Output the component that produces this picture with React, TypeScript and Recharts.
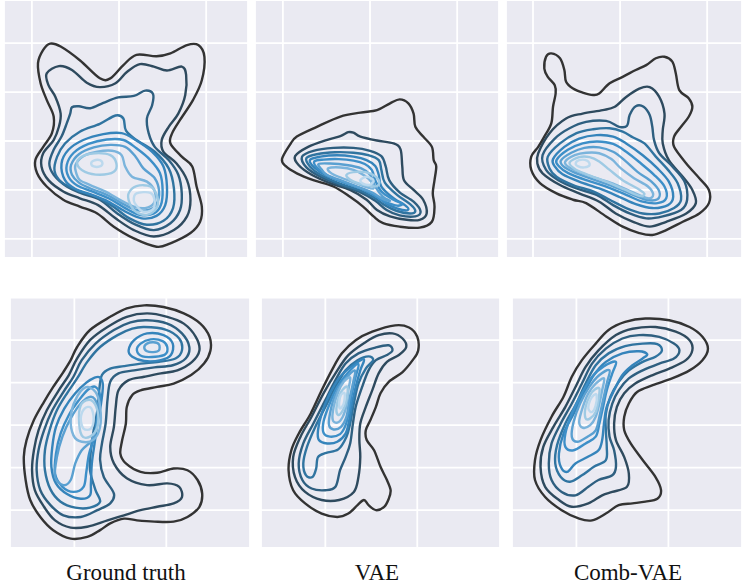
import { LineChart, Line, XAxis, YAxis, CartesianGrid } from "recharts";

type Pt = [number, number];

// column titles under the bottom row
const panelLabels = ["Ground truth", "VAE", "Comb-VAE"];

// grid tick values (grid cells)
const topXTicks = [0, 1, 2];
const topYTicks = [0, 1, 2, 3, 4];
const bottomXTicks = [0, 1];
const bottomYTicks = [0, 1, 2, 3, 4, 5];

// contour colours, outermost level first
const levelColors = [
    "#333333",
    "#2e4a5e",
    "#2e5f80",
    "#3074a0",
    "#3584bb",
    "#3d8fc8",
    "#5aa0d1",
    "#7bb4dc",
    "#9ecae4",
    "#bcd9ee",
];

// ---------- top row: ground truth ----------
const gtA0: Pt[] = [[0.21,3.99],[0.33,3.93],[0.55,3.65],[0.78,3.28],[0.90,3.28],[1.05,3.55],[1.20,3.76],[1.43,3.73],[1.59,3.79],[1.78,3.96],[1.91,3.96],[1.98,3.72],[1.95,3.24],[1.85,2.84],[1.70,2.43],[1.61,2.16],[1.59,1.95],[1.72,1.68],[1.84,1.48],[1.89,1.07],[1.95,0.66],[1.93,0.35],[1.82,0.12],[1.59,-0.09],[1.43,-0.16],[1.17,0.01],[0.94,0.25],[0.75,0.52],[0.55,0.66],[0.36,0.80],[0.17,1.07],[0.06,1.34],[0.04,1.61],[0.13,1.88],[0.23,2.16],[0.25,2.50],[0.17,2.84],[0.10,3.18],[0.07,3.59],[0.13,3.86]];
const gtA1: Pt[] = [[0.17,3.38],[0.31,3.53],[0.46,3.45],[0.63,3.19],[0.78,3.10],[0.96,3.18],[1.09,3.41],[1.24,3.57],[1.40,3.52],[1.55,3.44],[1.72,3.52],[1.77,3.35],[1.76,2.94],[1.68,2.56],[1.57,2.29],[1.49,2.02],[1.51,1.78],[1.66,1.54],[1.78,1.20],[1.82,0.80],[1.78,0.46],[1.63,0.18],[1.40,0.05],[1.17,0.18],[0.96,0.42],[0.76,0.69],[0.55,0.83],[0.36,0.97],[0.19,1.20],[0.11,1.48],[0.13,1.75],[0.25,2.02],[0.31,2.29],[0.33,2.56],[0.27,2.90],[0.19,3.14]];
const gtA2: Pt[] = [[0.46,2.69],[0.54,2.71],[0.67,2.67],[0.82,2.78],[0.99,2.89],[1.17,2.92],[1.30,3.03],[1.39,2.96],[1.38,2.73],[1.32,2.46],[1.34,2.16],[1.41,1.88],[1.57,1.61],[1.68,1.31],[1.72,0.93],[1.70,0.59],[1.59,0.32],[1.40,0.18],[1.19,0.29],[0.98,0.52],[0.78,0.80],[0.57,0.93],[0.40,1.07],[0.25,1.31],[0.20,1.54],[0.25,1.82],[0.34,2.09],[0.40,2.36],[0.44,2.56]];
const gtA3: Pt[] = [[0.29,1.68],[0.38,1.95],[0.55,2.19],[0.78,2.35],[0.96,2.52],[1.05,2.46],[1.08,2.21],[1.20,2.02],[1.41,1.78],[1.57,1.44],[1.63,1.03],[1.62,0.63],[1.51,0.37],[1.32,0.29],[1.12,0.42],[0.94,0.65],[0.75,0.85],[0.52,0.99],[0.34,1.16],[0.26,1.39]];
const gtA4: Pt[] = [[0.34,1.54],[0.42,1.82],[0.59,2.02],[0.82,2.14],[1.03,2.16],[1.19,2.02],[1.38,1.78],[1.51,1.48],[1.55,1.07],[1.53,0.69],[1.43,0.47],[1.26,0.42],[1.07,0.56],[0.88,0.76],[0.69,0.90],[0.50,1.02],[0.38,1.20]];
const gtA5: Pt[] = [[0.40,1.51],[0.48,1.76],[0.65,1.94],[0.86,2.03],[1.05,2.02],[1.20,1.85],[1.36,1.61],[1.47,1.34],[1.50,1.00],[1.48,0.69],[1.40,0.52],[1.24,0.49],[1.07,0.63],[0.88,0.83],[0.69,0.97],[0.52,1.09],[0.42,1.27]];
const gtA6: Pt[] = [[0.45,1.51],[0.54,1.73],[0.71,1.87],[0.90,1.92],[1.07,1.88],[1.19,1.68],[1.28,1.44],[1.41,1.24],[1.46,0.97],[1.43,0.71],[1.34,0.59],[1.20,0.59],[1.05,0.71],[0.86,0.90],[0.67,1.03],[0.54,1.15],[0.46,1.31]];
const gtA7: Pt[] = [[0.50,1.51],[0.59,1.69],[0.75,1.78],[0.92,1.80],[1.03,1.71],[1.07,1.48],[1.15,1.27],[1.32,1.17],[1.41,0.97],[1.40,0.73],[1.30,0.63],[1.17,0.66],[1.01,0.80],[0.84,0.97],[0.67,1.10],[0.55,1.20],[0.51,1.34]];
const gtA8a: Pt[] = [[0.52,1.53],[0.57,1.68],[0.73,1.75],[0.90,1.71],[0.97,1.54],[0.94,1.37],[0.78,1.31],[0.61,1.37]];
const gtA8b: Pt[] = [[1.11,0.93],[1.20,1.08],[1.36,1.07],[1.44,0.86],[1.43,0.63],[1.32,0.49],[1.19,0.56],[1.12,0.74]];
const gtA9a: Pt[] = [[0.68,1.54],[0.71,1.60],[0.78,1.61],[0.81,1.54],[0.78,1.48],[0.71,1.48]];
const gtA9b: Pt[] = [[1.17,0.78],[1.20,0.93],[1.36,0.94],[1.41,0.76],[1.38,0.59],[1.27,0.56],[1.21,0.66]];

// ---------- top row: VAE ----------
const vaeA0: Pt[] = [[-0.01,1.63],[0.08,1.92],[0.16,2.09],[0.39,2.29],[0.66,2.50],[0.89,2.58],[1.08,2.63],[1.23,2.77],[1.34,2.85],[1.44,2.77],[1.50,2.56],[1.52,2.29],[1.61,2.09],[1.71,1.88],[1.73,1.61],[1.76,1.48],[1.74,1.20],[1.72,0.93],[1.74,0.66],[1.71,0.35],[1.57,0.23],[1.34,0.25],[1.15,0.32],[1.04,0.46],[0.92,0.66],[0.77,0.86],[0.58,1.07],[0.35,1.20],[0.16,1.34],[0.03,1.49]];
const vaeA1: Pt[] = [[0.14,1.69],[0.29,1.88],[0.50,2.02],[0.66,2.10],[0.75,2.18],[0.81,2.17],[0.89,2.09],[1.08,2.01],[1.27,1.95],[1.35,1.83],[1.37,1.48],[1.39,1.20],[1.50,1.00],[1.61,0.80],[1.65,0.52],[1.57,0.39],[1.42,0.39],[1.23,0.46],[1.08,0.59],[0.96,0.80],[0.77,1.00],[0.54,1.14],[0.33,1.31],[0.18,1.51]];
const vaeA2: Pt[] = [[0.22,1.68],[0.35,1.80],[0.58,1.86],[0.81,1.86],[1.00,1.80],[1.13,1.69],[1.18,1.48],[1.22,1.20],[1.34,0.95],[1.50,0.76],[1.58,0.56],[1.52,0.46],[1.34,0.48],[1.19,0.59],[1.06,0.78],[0.89,0.95],[0.66,1.10],[0.43,1.27],[0.27,1.46]];
const vaeA3: Pt[] = [[0.27,1.65],[0.39,1.73],[0.60,1.77],[0.81,1.76],[0.98,1.71],[1.10,1.61],[1.13,1.41],[1.17,1.15],[1.31,0.90],[1.46,0.71],[1.52,0.57],[1.46,0.52],[1.31,0.57],[1.17,0.69],[1.04,0.85],[0.87,1.00],[0.64,1.14],[0.43,1.31],[0.31,1.48]];
const vaeA4: Pt[] = [[0.31,1.61],[0.43,1.68],[0.62,1.71],[0.81,1.68],[0.96,1.61],[1.06,1.49],[1.10,1.31],[1.13,1.07],[1.27,0.83],[1.40,0.69],[1.44,0.60],[1.37,0.59],[1.23,0.68],[1.10,0.83],[0.94,1.00],[0.73,1.14],[0.50,1.29],[0.36,1.46]];
const vaeA5: Pt[] = [[0.36,1.58],[0.47,1.62],[0.64,1.63],[0.81,1.60],[0.94,1.53],[1.02,1.41],[1.06,1.20],[1.13,0.97],[1.27,0.80],[1.37,0.72],[1.31,0.68],[1.17,0.76],[1.04,0.90],[0.89,1.03],[0.70,1.15],[0.52,1.29],[0.40,1.44]];
const vaeA6: Pt[] = [[0.41,1.53],[0.54,1.54],[0.73,1.51],[0.90,1.44],[1.00,1.31],[1.06,1.07],[1.15,0.86],[1.23,0.78],[1.15,0.81],[1.02,0.95],[0.85,1.07],[0.66,1.20],[0.50,1.31],[0.44,1.43]];
const vaeA7: Pt[] = [[0.52,1.44],[0.66,1.46],[0.81,1.41],[0.94,1.29],[1.02,1.15],[1.04,1.03],[0.94,1.07],[0.79,1.17],[0.64,1.27],[0.55,1.35]];
const vaeA8: Pt[] = [[0.73,1.31],[0.85,1.37],[1.00,1.34],[1.10,1.20],[1.08,1.08],[0.94,1.10],[0.79,1.19]];
const vaeA9: Pt[] = [[0.89,1.20],[0.96,1.27],[1.04,1.20],[1.00,1.11],[0.92,1.13]];

// ---------- top row: Comb-VAE ----------
const combA0: Pt[] = [[0.13,3.48],[0.15,3.72],[0.21,3.79],[0.31,3.69],[0.36,3.45],[0.38,3.21],[0.46,3.07],[0.57,2.99],[0.69,2.94],[0.76,2.97],[0.88,3.18],[1.03,3.31],[1.18,3.45],[1.30,3.55],[1.41,3.69],[1.51,3.72],[1.60,3.62],[1.64,3.38],[1.68,3.04],[1.79,2.87],[1.83,2.70],[1.79,2.50],[1.70,2.29],[1.62,2.09],[1.62,1.88],[1.76,1.54],[1.91,1.24],[2.02,1.00],[2.02,0.73],[1.91,0.52],[1.72,0.35],[1.53,0.18],[1.37,0.08],[1.22,0.12],[1.03,0.25],[0.84,0.46],[0.61,0.73],[0.46,0.80],[0.27,0.93],[0.08,1.14],[-0.02,1.41],[-0.02,1.68],[0.06,1.88],[0.13,2.09],[0.21,2.36],[0.23,2.70],[0.26,2.97],[0.25,3.14],[0.17,3.31]];
const combA1: Pt[] = [[0.06,1.75],[0.19,2.16],[0.38,2.46],[0.57,2.56],[0.80,2.63],[0.94,2.70],[1.07,2.90],[1.22,3.07],[1.34,3.10],[1.45,2.90],[1.51,2.56],[1.49,2.22],[1.49,1.95],[1.56,1.61],[1.72,1.27],[1.83,1.00],[1.87,0.73],[1.76,0.52],[1.53,0.35],[1.34,0.25],[1.15,0.35],[0.95,0.52],[0.76,0.76],[0.53,0.93],[0.31,1.10],[0.11,1.34],[0.05,1.54]];
const combA2: Pt[] = [[0.11,1.71],[0.25,2.05],[0.42,2.26],[0.61,2.39],[0.84,2.41],[0.99,2.29],[1.08,2.31],[1.11,2.53],[1.18,2.71],[1.27,2.70],[1.34,2.53],[1.37,2.29],[1.39,2.02],[1.45,1.75],[1.60,1.48],[1.74,1.17],[1.77,0.80],[1.70,0.59],[1.49,0.46],[1.30,0.42],[1.11,0.52],[0.92,0.69],[0.73,0.90],[0.50,1.03],[0.29,1.20],[0.15,1.41]];
const combA3: Pt[] = [[0.17,1.68],[0.31,1.95],[0.50,2.16],[0.69,2.24],[0.88,2.26],[1.03,2.19],[1.15,2.07],[1.28,1.95],[1.41,1.68],[1.55,1.41],[1.66,1.14],[1.70,0.80],[1.62,0.63],[1.45,0.52],[1.26,0.52],[1.07,0.63],[0.88,0.80],[0.69,0.97],[0.46,1.10],[0.27,1.27],[0.19,1.44]];
const combA4: Pt[] = [[0.23,1.63],[0.36,1.88],[0.53,2.05],[0.73,2.12],[0.92,2.09],[1.07,1.95],[1.26,1.71],[1.43,1.44],[1.56,1.17],[1.61,0.86],[1.55,0.69],[1.37,0.63],[1.18,0.71],[0.99,0.86],[0.76,1.03],[0.53,1.17],[0.34,1.32],[0.25,1.48]];
const combA5: Pt[] = [[0.27,1.61],[0.40,1.82],[0.57,1.95],[0.74,1.99],[0.92,1.94],[1.07,1.78],[1.24,1.54],[1.39,1.31],[1.51,1.07],[1.53,0.83],[1.43,0.73],[1.26,0.76],[1.07,0.90],[0.84,1.07],[0.61,1.20],[0.40,1.35],[0.30,1.48]];
const combA6: Pt[] = [[0.32,1.60],[0.44,1.76],[0.59,1.86],[0.76,1.87],[0.92,1.78],[1.05,1.61],[1.20,1.37],[1.36,1.17],[1.45,0.97],[1.43,0.81],[1.30,0.80],[1.11,0.93],[0.88,1.10],[0.65,1.24],[0.46,1.37],[0.35,1.48]];
const combA7: Pt[] = [[0.37,1.58],[0.48,1.71],[0.61,1.76],[0.76,1.75],[0.90,1.63],[1.01,1.44],[1.16,1.24],[1.32,1.07],[1.38,0.90],[1.32,0.83],[1.15,0.95],[0.92,1.13],[0.69,1.26],[0.50,1.39],[0.40,1.48]];
const combA8: Pt[] = [[0.42,1.56],[0.53,1.67],[0.65,1.67],[0.76,1.58],[0.88,1.41],[1.03,1.20],[1.20,1.03],[1.28,0.92],[1.22,0.88],[1.05,1.01],[0.84,1.17],[0.63,1.31],[0.48,1.43]];
const combA9: Pt[] = [[0.49,1.54],[0.53,1.61],[0.62,1.60],[0.65,1.51],[0.59,1.46],[0.52,1.48]];

// ---------- bottom row: ground truth ----------
const gtB0: Pt[] = [[0.76,4.82],[0.97,4.78],[1.19,4.63],[1.37,4.39],[1.47,4.08],[1.48,3.76],[1.41,3.45],[1.27,3.18],[1.08,2.98],[0.90,2.90],[0.72,2.82],[0.63,2.71],[0.57,2.43],[0.56,2.04],[0.52,1.65],[0.50,1.33],[0.56,1.10],[0.72,0.90],[0.90,0.88],[1.08,0.98],[1.23,0.94],[1.34,0.71],[1.39,0.39],[1.36,0.08],[1.23,-0.16],[1.08,-0.27],[0.87,-0.27],[0.68,-0.24],[0.54,-0.20],[0.39,-0.31],[0.28,-0.47],[0.14,-0.63],[-0.04,-0.67],[-0.23,-0.47],[-0.37,-0.16],[-0.48,0.24],[-0.53,0.71],[-0.55,1.25],[-0.52,1.65],[-0.44,2.12],[-0.33,2.55],[-0.23,2.90],[-0.12,3.25],[-0.04,3.53],[0.03,3.84],[0.17,4.24],[0.39,4.55],[0.57,4.75]];
const gtB1: Pt[] = [[0.79,4.63],[1.01,4.55],[1.19,4.39],[1.32,4.08],[1.36,3.76],[1.28,3.49],[1.12,3.29],[0.94,3.22],[0.76,3.14],[0.59,3.06],[0.48,2.82],[0.45,2.43],[0.43,1.96],[0.39,1.49],[0.43,1.10],[0.57,0.75],[0.79,0.59],[1.01,0.63],[1.14,0.55],[1.17,0.31],[1.08,0.16],[0.90,0.08],[0.72,0.00],[0.54,-0.12],[0.36,-0.24],[0.14,-0.39],[-0.04,-0.41],[-0.21,-0.24],[-0.33,0.08],[-0.43,0.47],[-0.46,0.94],[-0.44,1.41],[-0.39,1.88],[-0.30,2.35],[-0.17,2.82],[-0.06,3.18],[0.03,3.57],[0.17,4.00],[0.36,4.31],[0.57,4.55]];
const gtB2: Pt[] = [[0.79,4.47],[1.01,4.39],[1.17,4.16],[1.25,3.84],[1.21,3.57],[1.07,3.41],[0.87,3.36],[0.65,3.29],[0.48,3.22],[0.39,3.02],[0.36,2.59],[0.34,2.04],[0.30,1.57],[0.28,1.18],[0.32,0.78],[0.43,0.39],[0.39,0.16],[0.25,0.00],[0.07,-0.16],[-0.12,-0.12],[-0.26,0.12],[-0.37,0.47],[-0.41,0.94],[-0.39,1.41],[-0.33,1.88],[-0.24,2.35],[-0.12,2.78],[-0.01,3.14],[0.08,3.53],[0.23,3.92],[0.43,4.24],[0.61,4.42]];
const gtB3: Pt[] = [[0.76,4.31],[0.99,4.25],[1.14,4.04],[1.17,3.76],[1.10,3.57],[0.92,3.49],[0.72,3.45],[0.54,3.39],[0.39,3.33],[0.30,3.18],[0.27,2.82],[0.25,2.35],[0.21,1.88],[0.18,1.41],[0.17,0.94],[0.23,0.47],[0.28,0.20],[0.17,0.06],[0.01,0.06],[-0.15,0.20],[-0.26,0.49],[-0.32,0.94],[-0.32,1.41],[-0.27,1.88],[-0.19,2.35],[-0.08,2.75],[0.03,3.10],[0.14,3.49],[0.28,3.84],[0.47,4.12],[0.63,4.27]];
const gtB4a: Pt[] = [[0.59,3.76],[0.65,4.00],[0.79,4.16],[0.97,4.12],[1.07,3.92],[1.05,3.65],[0.94,3.53],[0.76,3.51],[0.63,3.61]];
const gtB4b: Pt[] = [[0.28,3.12],[0.31,2.94],[0.29,2.51],[0.25,2.04],[0.22,1.57],[0.19,1.10],[0.18,0.63],[0.17,0.35],[0.07,0.27],[-0.08,0.38],[-0.20,0.63],[-0.25,1.02],[-0.24,1.49],[-0.20,1.96],[-0.11,2.39],[0.01,2.75],[0.13,3.00],[0.22,3.12]];
const gtB5a: Pt[] = [[0.68,3.76],[0.72,3.92],[0.83,4.02],[0.96,3.98],[1.01,3.84],[0.99,3.67],[0.88,3.61],[0.74,3.62]];
const gtB5b: Pt[] = [[0.23,2.90],[0.28,2.67],[0.25,2.20],[0.22,1.73],[0.16,1.33],[0.13,0.90],[0.10,0.55],[-0.01,0.43],[-0.13,0.55],[-0.21,0.86],[-0.20,1.33],[-0.15,1.80],[-0.06,2.24],[0.05,2.59],[0.15,2.84]];
const gtB6a: Pt[] = [[0.76,3.83],[0.79,3.92],[0.86,3.95],[0.92,3.90],[0.92,3.76],[0.86,3.72],[0.79,3.74]];
const gtB6b: Pt[] = [[0.18,2.67],[0.25,2.47],[0.25,2.04],[0.19,1.65],[0.08,1.41],[0.01,1.10],[-0.04,0.71],[-0.12,0.59],[-0.21,0.78],[-0.19,1.25],[-0.13,1.73],[-0.04,2.16],[0.07,2.51]];
const gtB7: Pt[] = [[0.12,2.89],[0.23,2.78],[0.28,2.43],[0.28,1.96],[0.21,1.66],[0.08,1.61],[-0.01,1.76],[-0.04,2.16],[0.01,2.59]];
const gtB8: Pt[] = [[0.05,2.20],[0.08,2.51],[0.18,2.59],[0.25,2.35],[0.25,1.96],[0.17,1.73],[0.08,1.76]];
const gtB9: Pt[] = [[0.07,2.16],[0.11,2.39],[0.18,2.41],[0.21,2.16],[0.18,1.92],[0.10,1.92]];

// ---------- bottom row: VAE ----------
const vaeB0: Pt[] = [[0.76,4.35],[0.91,4.30],[1.00,4.08],[1.01,3.76],[0.95,3.53],[0.84,3.25],[0.69,3.02],[0.60,2.75],[0.55,2.43],[0.49,2.12],[0.44,1.88],[0.45,1.65],[0.53,1.41],[0.60,1.02],[0.67,0.71],[0.71,0.47],[0.69,0.27],[0.64,0.08],[0.55,0.00],[0.47,0.12],[0.42,0.24],[0.35,0.12],[0.25,-0.08],[0.13,-0.16],[-0.04,-0.08],[-0.22,0.16],[-0.35,0.47],[-0.40,0.94],[-0.37,1.41],[-0.29,1.80],[-0.16,2.27],[-0.04,2.82],[0.07,3.29],[0.18,3.69],[0.33,4.00],[0.51,4.20]];
const vaeB1: Pt[] = [[0.73,4.16],[0.84,4.04],[0.88,3.84],[0.80,3.65],[0.67,3.49],[0.58,3.22],[0.51,2.82],[0.44,2.43],[0.38,2.04],[0.37,1.65],[0.38,1.25],[0.36,0.78],[0.31,0.43],[0.15,0.24],[-0.04,0.24],[-0.22,0.43],[-0.33,0.78],[-0.35,1.25],[-0.27,1.73],[-0.15,2.20],[-0.02,2.75],[0.11,3.22],[0.25,3.65],[0.44,3.96],[0.58,4.12]];
const vaeB2: Pt[] = [[0.69,3.88],[0.73,3.76],[0.67,3.65],[0.55,3.53],[0.47,3.29],[0.40,2.90],[0.33,2.43],[0.30,2.04],[0.27,1.57],[0.22,1.25],[0.16,0.94],[0.11,0.55],[0.00,0.47],[-0.15,0.51],[-0.25,0.71],[-0.29,1.10],[-0.24,1.57],[-0.13,2.04],[0.00,2.59],[0.11,3.06],[0.22,3.45],[0.36,3.69],[0.55,3.83]];
const vaeB3: Pt[] = [[0.47,3.62],[0.52,3.53],[0.44,3.33],[0.36,2.98],[0.31,2.51],[0.27,2.04],[0.23,1.73],[0.14,1.43],[0.01,1.35],[-0.08,1.25],[-0.10,0.98],[-0.14,0.78],[-0.21,0.82],[-0.24,1.10],[-0.20,1.49],[-0.11,1.96],[0.00,2.43],[0.11,2.90],[0.22,3.29],[0.35,3.53]];
const vaeB4: Pt[] = [[0.42,3.55],[0.38,3.29],[0.33,2.90],[0.29,2.51],[0.26,2.12],[0.22,1.80],[0.13,1.61],[0.02,1.57],[-0.07,1.65],[-0.08,1.88],[-0.04,2.27],[0.05,2.75],[0.16,3.14],[0.29,3.39]];
const vaeB5: Pt[] = [[0.36,3.44],[0.33,3.14],[0.29,2.75],[0.26,2.35],[0.22,2.00],[0.16,1.79],[0.05,1.73],[-0.02,1.82],[-0.02,2.08],[0.04,2.47],[0.13,2.90],[0.24,3.22]];
const vaeB6: Pt[] = [[0.32,3.29],[0.30,2.98],[0.26,2.59],[0.23,2.20],[0.17,1.96],[0.09,1.90],[0.04,2.00],[0.05,2.27],[0.10,2.67],[0.19,3.02]];
const vaeB7: Pt[] = [[0.27,3.12],[0.25,2.82],[0.23,2.47],[0.19,2.20],[0.13,2.06],[0.08,2.13],[0.09,2.43],[0.14,2.78],[0.20,3.02]];
const vaeB8: Pt[] = [[0.24,2.90],[0.23,2.59],[0.19,2.35],[0.14,2.24],[0.12,2.39],[0.15,2.69],[0.19,2.84]];
const vaeB9: Pt[] = [[0.21,2.75],[0.20,2.51],[0.16,2.39],[0.15,2.53],[0.17,2.71]];

// ---------- bottom row: Comb-VAE ----------
const combB0: Pt[] = [[0.53,4.43],[0.75,4.51],[1.01,4.47],[1.23,4.31],[1.37,4.08],[1.43,3.80],[1.37,3.53],[1.23,3.29],[1.04,3.10],[0.83,2.94],[0.66,2.78],[0.57,2.51],[0.52,2.20],[0.52,1.88],[0.59,1.57],[0.72,1.18],[0.86,0.78],[0.92,0.47],[0.88,0.27],[0.75,0.20],[0.61,0.16],[0.46,0.12],[0.32,-0.08],[0.17,-0.24],[0.03,-0.20],[-0.16,0.00],[-0.34,0.31],[-0.45,0.71],[-0.45,1.18],[-0.39,1.65],[-0.27,2.20],[-0.14,2.67],[-0.05,3.14],[0.06,3.53],[0.21,3.92],[0.35,4.24]];
const combB1: Pt[] = [[0.61,4.27],[0.86,4.31],[1.08,4.20],[1.23,4.00],[1.26,3.76],[1.19,3.53],[1.01,3.33],[0.83,3.18],[0.64,2.98],[0.52,2.75],[0.44,2.43],[0.41,2.04],[0.43,1.65],[0.52,1.25],[0.57,0.86],[0.55,0.55],[0.39,0.43],[0.28,0.35],[0.13,0.16],[-0.05,0.08],[-0.19,0.24],[-0.34,0.55],[-0.39,1.02],[-0.36,1.49],[-0.25,1.96],[-0.12,2.43],[-0.01,2.90],[0.10,3.37],[0.24,3.76],[0.43,4.12]];
const combB2: Pt[] = [[0.68,4.12],[0.90,4.08],[1.06,3.92],[1.12,3.76],[1.06,3.57],[0.90,3.45],[0.72,3.29],[0.57,3.10],[0.46,2.82],[0.39,2.51],[0.35,2.12],[0.36,1.73],[0.41,1.41],[0.43,1.02],[0.39,0.82],[0.24,0.71],[0.13,0.55],[-0.01,0.35],[-0.16,0.43],[-0.27,0.71],[-0.30,1.10],[-0.27,1.57],[-0.17,2.04],[-0.05,2.51],[0.06,2.98],[0.17,3.45],[0.32,3.80],[0.50,4.04]];
const combB3: Pt[] = [[0.72,3.92],[0.88,3.91],[0.93,3.76],[0.86,3.61],[0.72,3.49],[0.57,3.29],[0.46,3.02],[0.37,2.67],[0.32,2.27],[0.32,1.88],[0.33,1.49],[0.32,1.18],[0.19,1.02],[0.06,0.82],[-0.07,0.67],[-0.17,0.78],[-0.23,1.10],[-0.21,1.53],[-0.12,2.04],[-0.01,2.47],[0.10,2.98],[0.21,3.41],[0.35,3.69],[0.53,3.86]];
const combB4: Pt[] = [[0.77,3.67],[0.72,3.57],[0.61,3.41],[0.50,3.18],[0.41,2.82],[0.33,2.43],[0.30,2.04],[0.28,1.65],[0.24,1.41],[0.12,1.25],[-0.01,1.10],[-0.10,0.90],[-0.17,1.02],[-0.19,1.33],[-0.14,1.80],[-0.03,2.27],[0.08,2.75],[0.19,3.18],[0.32,3.49],[0.50,3.69],[0.68,3.74]];
const combB5: Pt[] = [[0.43,3.49],[0.39,3.22],[0.33,2.82],[0.29,2.43],[0.25,2.04],[0.21,1.73],[0.10,1.57],[-0.03,1.41],[-0.12,1.49],[-0.12,1.80],[-0.05,2.27],[0.06,2.75],[0.17,3.14],[0.30,3.39]];
const combB6: Pt[] = [[0.36,3.29],[0.33,2.98],[0.29,2.59],[0.25,2.20],[0.21,1.88],[0.12,1.73],[0.01,1.61],[-0.05,1.73],[-0.03,2.08],[0.04,2.51],[0.14,2.90],[0.25,3.18]];
const combB7: Pt[] = [[0.30,3.10],[0.28,2.82],[0.25,2.51],[0.21,2.20],[0.15,2.00],[0.07,1.94],[0.03,2.08],[0.07,2.43],[0.13,2.75],[0.21,2.98]];
const combB8: Pt[] = [[0.25,2.86],[0.24,2.59],[0.21,2.31],[0.15,2.16],[0.10,2.16],[0.10,2.43],[0.15,2.71],[0.20,2.84]];
const combB9: Pt[] = [[0.22,2.71],[0.21,2.47],[0.17,2.31],[0.13,2.39],[0.15,2.59],[0.19,2.71]];

// contour lists per panel with their level index
const gtAContours = [gtA0, gtA1, gtA2, gtA3, gtA4, gtA5, gtA6, gtA7, gtA8a, gtA8b, gtA9a, gtA9b];
const gtALevels = [0, 1, 2, 3, 4, 5, 6, 7, 8, 8, 9, 9];
const vaeAContours = [vaeA0, vaeA1, vaeA2, vaeA3, vaeA4, vaeA5, vaeA6, vaeA7, vaeA8, vaeA9];
const vaeALevels = [0, 1, 2, 3, 4, 5, 6, 7, 8, 9];
const combAContours = [combA0, combA1, combA2, combA3, combA4, combA5, combA6, combA7, combA8, combA9];
const combALevels = [0, 1, 2, 3, 4, 5, 6, 7, 8, 9];
const gtBContours = [gtB0, gtB1, gtB2, gtB3, gtB4a, gtB4b, gtB5a, gtB5b, gtB6a, gtB6b, gtB7, gtB8, gtB9];
const gtBLevels = [0, 1, 2, 3, 4, 4, 5, 5, 6, 6, 7, 8, 9];
const vaeBContours = [vaeB0, vaeB1, vaeB2, vaeB3, vaeB4, vaeB5, vaeB6, vaeB7, vaeB8, vaeB9];
const vaeBLevels = [0, 1, 2, 3, 4, 5, 6, 7, 8, 9];
const combBContours = [combB0, combB1, combB2, combB3, combB4, combB5, combB6, combB7, combB8, combB9];
const combBLevels = [0, 1, 2, 3, 4, 5, 6, 7, 8, 9];

// closed Catmull-Rom curve so the contour passes through every traced point
function closedSpline(context: any) {
    let pts: number[][] = [];
    return {
        areaStart() {},
        areaEnd() {},
        lineStart() {
            pts = [];
        },
        point(x: number, y: number) {
            pts.push([+x, +y]);
        },
        lineEnd() {
            const n = pts.length;
            if (!n) return;
            context.moveTo(pts[0][0], pts[0][1]);
            for (let i = 0; i < n; i++) {
                const p0 = pts[(i - 1 + n) % n];
                const p1 = pts[i];
                const p2 = pts[(i + 1) % n];
                const p3 = pts[(i + 2) % n];
                context.bezierCurveTo(
                    p1[0] + (p2[0] - p0[0]) / 6,
                    p1[1] + (p2[1] - p0[1]) / 6,
                    p2[0] - (p3[0] - p1[0]) / 6,
                    p2[1] - (p3[1] - p1[1]) / 6,
                    p2[0],
                    p2[1]
                );
            }
            context.closePath();
        },
    };
}

type PanelProps = {
    left: number;
    top: number;
    width: number;
    height: number;
    xDomain: [number, number];
    yDomain: [number, number];
    xTicks: number[];
    yTicks: number[];
    contours: Pt[][];
    levels: number[];
};

function ContourPanel(p: PanelProps) {
    return (
        <div style={{ position: "absolute", left: p.left, top: p.top }}>
            <LineChart width={p.width} height={p.height} margin={{ top: 0, right: 0, bottom: 0, left: 0 }}>
                <CartesianGrid fill="#eaeaf2" stroke="#ffffff" strokeWidth={1.8} />
                <XAxis type="number" dataKey="x" domain={p.xDomain} ticks={p.xTicks} allowDataOverflow hide />
                <YAxis type="number" domain={p.yDomain} ticks={p.yTicks} allowDataOverflow hide />
                {p.contours.map((pts, i) => (
                    <Line
                        key={i}
                        data={pts.map(([x, y]) => ({ x, y }))}
                        dataKey="y"
                        type={closedSpline as any}
                        stroke={levelColors[p.levels[i]]}
                        strokeWidth={2.4}
                        dot={false}
                        activeDot={false}
                        isAnimationActive={false}
                    />
                ))}
            </LineChart>
        </div>
    );
}

export default function App() {
    const topY: [number, number] = [-0.39, 4.88];
    const botY: [number, number] = [-0.89, 5.04];
    return (
        <div style={{ position: "absolute", left: 0, top: 0, width: 742, height: 584, overflow: "hidden", background: "#fff" }}>
            <ContourPanel left={4} top={0} width={244} height={258} xDomain={[-0.32, 2.48]} yDomain={topY} xTicks={topXTicks} yTicks={topYTicks} contours={gtAContours} levels={gtALevels} />
            <ContourPanel left={255} top={0} width={244} height={258} xDomain={[-0.32, 2.48]} yDomain={topY} xTicks={topXTicks} yTicks={topYTicks} contours={vaeAContours} levels={vaeALevels} />
            <ContourPanel left={506} top={0} width={236} height={258} xDomain={[-0.31, 2.40]} yDomain={topY} xTicks={topXTicks} yTicks={topYTicks} contours={combAContours} levels={combALevels} />
            <ContourPanel left={10} top={296} width={240} height={252} xDomain={[-0.7, 1.91]} yDomain={botY} xTicks={bottomXTicks} yTicks={bottomYTicks} contours={gtBContours} levels={gtBLevels} />
            <ContourPanel left={261} top={296} width={239} height={252} xDomain={[-0.7, 1.9]} yDomain={botY} xTicks={bottomXTicks} yTicks={bottomYTicks} contours={vaeBContours} levels={vaeBLevels} />
            <ContourPanel left={512} top={296} width={230} height={252} xDomain={[-0.7, 1.8]} yDomain={botY} xTicks={bottomXTicks} yTicks={bottomYTicks} contours={combBContours} levels={combBLevels} />
            <svg width={742} height={584} style={{ position: "absolute", left: 0, top: 0, pointerEvents: "none" }}>
                {panelLabels.map((label, i) => (
                    <text key={label} x={[126, 377, 628][i]} y={580} textAnchor="middle" fontFamily="'Liberation Serif', 'DejaVu Serif', serif" fontSize={23} fill="#111">
                        {label}
                    </text>
                ))}
            </svg>
        </div>
    );
}
